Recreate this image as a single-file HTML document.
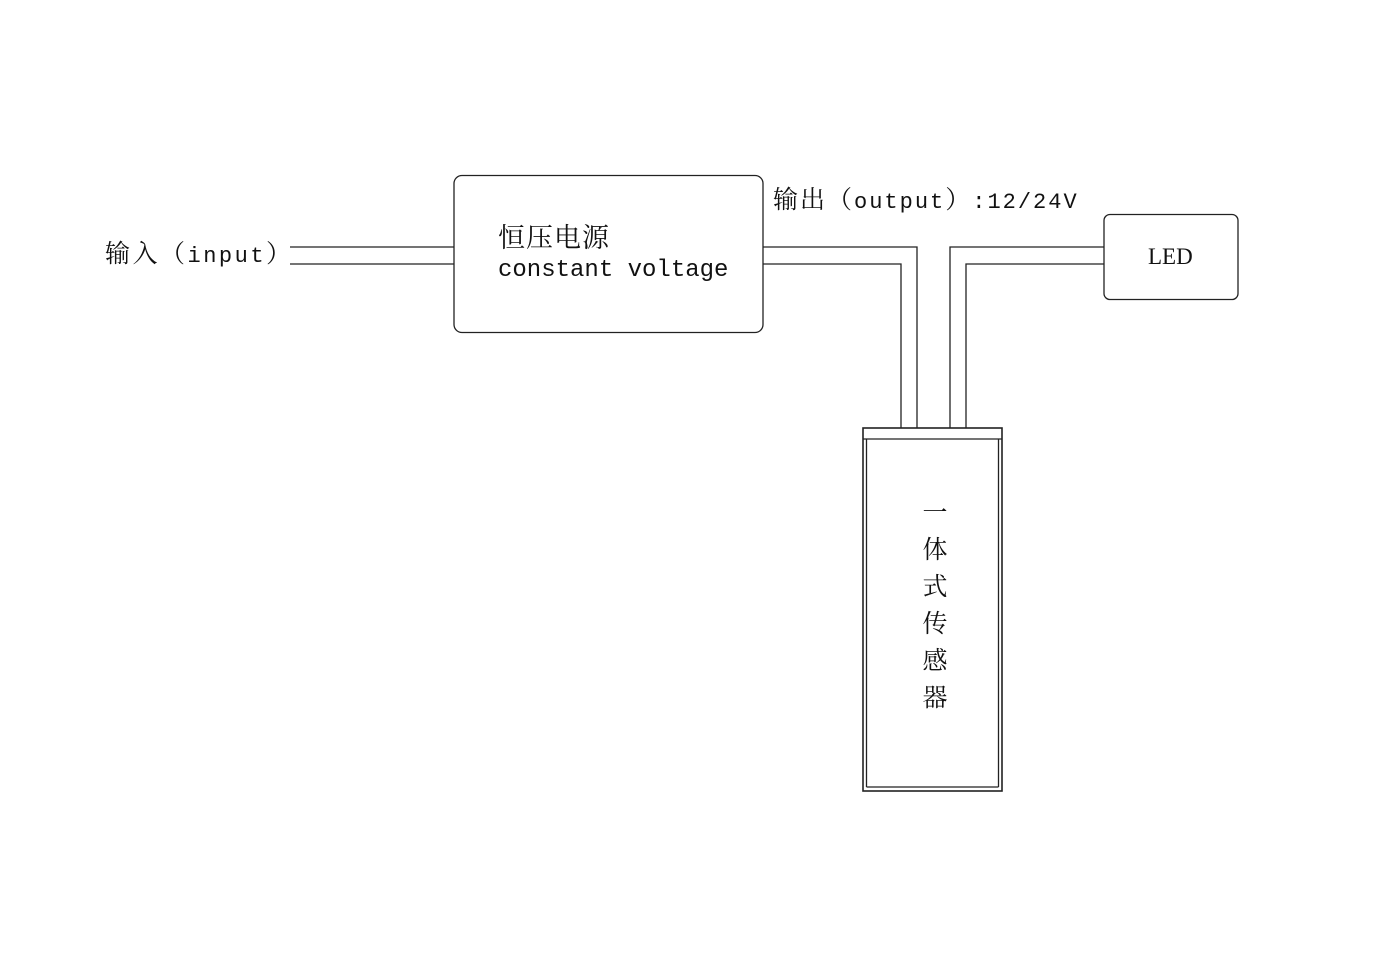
<!DOCTYPE html>
<html><head><meta charset="utf-8"><style>
body{margin:0;width:1375px;height:972px;background:#fff;position:relative;overflow:hidden}
.t{position:absolute;white-space:nowrap;color:#111;line-height:1}
.c{font-family:"Noto Serif CJK SC","Noto Sans CJK SC",serif;font-size:25px}
.m{font-family:"Liberation Mono",monospace;font-size:22px}
</style></head><body>
<svg width="1375" height="972" style="position:absolute;left:0;top:0" fill="none" stroke="#222" stroke-width="1.3">
<line x1="290" y1="247" x2="454" y2="247"/>
<line x1="290" y1="264" x2="454" y2="264"/>
<rect x="454" y="175.5" width="309" height="157" rx="8"/>
<polyline points="763,247 917,247 917,428"/>
<polyline points="763,264 901,264 901,428"/>
<polyline points="1104,247 950,247 950,428"/>
<polyline points="1104,264 966,264 966,428"/>
<rect x="1104" y="214.5" width="134" height="85" rx="6"/>
<rect x="863" y="428" width="139" height="363" stroke-width="1.6"/>
<line x1="863" y1="439" x2="1002" y2="439"/>
<line x1="866.5" y1="439" x2="866.5" y2="787"/>
<line x1="998.5" y1="439" x2="998.5" y2="787"/>
<line x1="866.5" y1="787" x2="998.5" y2="787"/>
</svg>
<div class="t" style="left:105px;top:240px;letter-spacing:2.5px"><span class="c">输入（</span><span class="m">input</span><span class="c">）</span></div>
<div class="t c" style="left:498px;top:222px;font-size:27px;letter-spacing:1px">恒压电源</div>
<div class="t m" style="left:498px;top:259px;font-size:24px">constant voltage</div>
<div class="t" style="left:773px;top:186px;letter-spacing:2px"><span class="c">输出（</span><span class="m">output</span><span class="c">）</span><span class="m">:12/24V</span></div>
<div class="t" style="left:1148px;top:245px;font-family:'Liberation Serif',serif;font-size:23px">LED</div>
<div class="t c" style="left:922px;top:493px;width:26px;line-height:37px;white-space:normal;text-align:center">一体式传感器</div>
</body></html>
